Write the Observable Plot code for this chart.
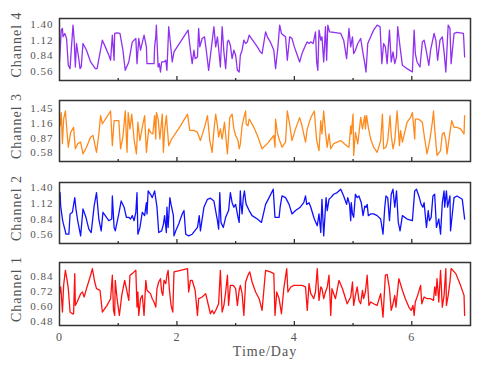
<!DOCTYPE html>
<html>
<head>
<meta charset="utf-8">
<script src="https://cdn.jsdelivr.net/npm/d3@7"></script>
<script src="https://cdn.jsdelivr.net/npm/@observablehq/plot@0.6"></script>
<style>
  html, body { margin: 0; padding: 0; background: #fff; }
  #chart { position: relative; width: 480px; height: 367px; }
  #chart > svg { position: absolute; left: 0; }
</style>
</head>
<body>
<div id="chart"></div>
<script>
// ---- data: [day, value] pairs ----
const ch4 = [[0.00,0.73],[0.03,1.30],[0.05,1.33],[0.06,1.18],[0.09,1.24],[0.10,1.21],[0.12,1.15],[0.15,0.67],[0.18,0.61],[0.20,0.94],[0.23,1.39],[0.25,1.12],[0.27,0.64],[0.29,1.06],[0.32,0.85],[0.35,0.61],[0.37,0.64],[0.40,1.06],[0.46,0.94],[0.53,0.73],[0.61,0.61],[0.64,0.61],[0.73,1.12],[0.78,1.00],[0.84,0.85],[0.87,0.76],[0.90,1.21],[0.93,0.76],[0.94,1.24],[0.98,1.25],[1.03,1.24],[1.08,0.94],[1.12,0.58],[1.18,0.73],[1.24,1.09],[1.30,1.15],[1.32,0.70],[1.35,1.15],[1.38,0.94],[1.44,1.21],[1.48,1.00],[1.49,0.70],[1.61,0.70],[1.62,1.00],[1.64,1.18],[1.65,1.39],[1.66,1.12],[1.68,0.64],[1.70,0.70],[1.72,0.55],[1.74,0.73],[1.78,0.73],[1.81,0.76],[1.83,0.58],[1.86,1.36],[1.89,1.06],[1.92,0.73],[1.95,0.91],[2.06,1.09],[2.19,1.30],[2.23,0.94],[2.26,0.70],[2.29,0.94],[2.31,0.79],[2.35,0.82],[2.37,1.33],[2.39,1.00],[2.43,1.15],[2.47,1.18],[2.50,0.94],[2.54,0.58],[2.63,1.36],[2.66,1.00],[2.69,1.18],[2.71,0.97],[2.74,0.64],[2.77,1.36],[2.80,0.91],[2.83,0.61],[2.86,1.09],[2.88,1.12],[2.91,1.03],[2.94,0.79],[2.97,0.94],[3.00,0.85],[3.03,0.58],[3.06,0.55],[3.08,0.85],[3.11,0.94],[3.14,1.12],[3.17,1.06],[3.20,1.09],[3.23,1.21],[3.25,1.18],[3.31,1.09],[3.37,1.00],[3.42,0.91],[3.45,0.88],[3.51,1.27],[3.54,1.18],[3.59,1.09],[3.65,0.94],[3.68,0.61],[3.72,1.00],[3.75,1.39],[3.78,1.24],[3.81,1.21],[3.85,1.18],[3.88,0.76],[3.92,1.18],[3.96,1.15],[4.00,1.00],[4.05,0.85],[4.09,0.73],[4.13,0.88],[4.19,1.03],[4.22,1.09],[4.25,1.06],[4.28,1.09],[4.32,1.06],[4.36,1.27],[4.38,0.73],[4.40,0.58],[4.42,1.30],[4.45,1.12],[4.47,1.18],[4.50,0.73],[4.53,1.36],[4.55,0.76],[4.57,1.39],[4.60,1.27],[4.67,1.26],[4.79,1.24],[4.84,1.12],[4.89,0.79],[4.93,1.33],[4.96,1.00],[4.99,1.18],[5.01,0.88],[5.04,0.94],[5.08,1.06],[5.13,1.15],[5.17,0.88],[5.20,0.70],[5.22,0.55],[5.25,1.06],[5.30,1.18],[5.35,1.30],[5.41,1.39],[5.46,1.36],[5.49,0.70],[5.52,1.06],[5.55,1.00],[5.58,0.70],[5.62,1.30],[5.65,0.73],[5.68,0.91],[5.71,0.70],[5.74,0.82],[5.76,1.36],[5.80,1.00],[5.84,0.67],[5.92,0.61],[6.01,0.55],[6.04,1.30],[6.06,0.88],[6.09,0.73],[6.14,0.64],[6.18,1.09],[6.21,1.12],[6.24,0.97],[6.29,0.67],[6.32,0.94],[6.35,1.09],[6.38,1.24],[6.41,1.12],[6.44,0.76],[6.48,1.12],[6.52,1.18],[6.55,0.91],[6.58,0.55],[6.62,1.39],[6.65,1.33],[6.67,0.70],[6.72,1.24],[6.77,1.26],[6.88,1.24],[6.90,0.82]];

const ch3 = [[0.01,1.11],[0.03,1.37],[0.05,0.76],[0.07,1.24],[0.10,1.40],[0.12,1.11],[0.15,0.69],[0.19,0.98],[0.24,1.08],[0.27,0.66],[0.31,0.76],[0.36,0.79],[0.40,0.56],[0.46,0.69],[0.53,0.89],[0.57,0.92],[0.63,0.59],[0.67,0.95],[0.70,1.31],[0.73,1.15],[0.80,1.27],[0.87,1.40],[0.90,0.72],[0.93,1.21],[1.01,1.21],[1.04,0.66],[1.08,0.89],[1.12,1.40],[1.15,0.59],[1.17,1.37],[1.20,1.05],[1.23,1.34],[1.27,0.85],[1.31,0.56],[1.335,1.18],[1.37,0.82],[1.41,1.08],[1.45,1.31],[1.48,0.59],[1.52,1.05],[1.55,0.98],[1.59,0.95],[1.62,1.31],[1.64,0.85],[1.65,1.37],[1.68,1.24],[1.71,0.85],[1.75,1.34],[1.77,0.59],[1.79,1.02],[1.82,1.31],[1.86,0.72],[1.91,0.85],[2.06,1.11],[2.18,1.34],[2.22,1.02],[2.29,1.02],[2.35,0.98],[2.40,0.82],[2.47,1.08],[2.52,1.31],[2.56,0.82],[2.60,0.59],[2.63,1.02],[2.66,1.34],[2.69,1.11],[2.71,0.89],[2.74,1.05],[2.77,0.85],[2.81,1.18],[2.86,0.56],[2.90,1.27],[2.94,1.34],[2.97,1.05],[3.00,0.92],[3.04,0.82],[3.06,0.66],[3.08,0.75],[3.11,1.11],[3.14,1.27],[3.17,1.40],[3.18,1.14],[3.21,1.11],[3.23,1.24],[3.25,1.21],[3.31,1.08],[3.37,0.92],[3.45,0.66],[3.54,0.76],[3.65,0.92],[3.67,0.69],[3.68,1.24],[3.71,0.98],[3.74,0.85],[3.79,0.69],[3.85,0.79],[3.88,1.40],[3.92,1.14],[3.96,0.82],[4.02,1.05],[4.09,1.27],[4.13,1.11],[4.19,0.79],[4.22,1.05],[4.28,1.27],[4.34,1.40],[4.38,0.82],[4.42,0.625],[4.45,1.21],[4.47,0.95],[4.50,1.40],[4.53,0.98],[4.56,0.69],[4.59,0.95],[4.62,0.66],[4.67,0.76],[4.79,0.82],[4.89,0.72],[4.93,0.69],[4.96,1.11],[4.97,0.95],[5.00,1.34],[5.01,0.53],[5.04,0.98],[5.08,0.755],[5.13,1.275],[5.16,1.05],[5.20,1.31],[5.21,1.05],[5.23,1.31],[5.26,1.08],[5.30,0.85],[5.35,0.69],[5.41,0.59],[5.47,0.82],[5.50,1.34],[5.52,0.66],[5.56,0.69],[5.59,0.82],[5.63,1.31],[5.65,0.92],[5.68,0.66],[5.71,0.82],[5.75,1.40],[5.79,0.72],[5.81,1.015],[5.84,0.79],[5.92,1.18],[5.98,1.275],[6.01,1.37],[6.05,0.85],[6.06,1.24],[6.12,1.24],[6.18,1.18],[6.22,0.85],[6.26,0.56],[6.31,0.85],[6.35,1.18],[6.37,1.40],[6.39,1.05],[6.43,0.53],[6.49,0.625],[6.52,0.95],[6.55,0.98],[6.58,0.82],[6.60,0.56],[6.65,0.98],[6.68,1.21],[6.72,1.08],[6.77,1.08],[6.83,1.05],[6.89,0.95],[6.90,1.31]];

const ch2 = [[0.01,1.31],[0.02,1.07],[0.05,0.84],[0.06,0.78],[0.09,0.66],[0.11,0.57],[0.16,0.57],[0.18,0.93],[0.22,0.96],[0.26,1.22],[0.28,1.02],[0.31,0.81],[0.36,0.54],[0.40,1.02],[0.45,0.87],[0.50,0.66],[0.54,0.60],[0.59,1.07],[0.63,1.31],[0.67,0.84],[0.71,0.63],[0.74,0.96],[0.78,0.90],[0.84,0.81],[0.89,0.84],[0.90,1.25],[0.93,0.69],[0.95,0.63],[1.01,0.93],[1.05,1.16],[1.10,1.05],[1.14,0.87],[1.18,0.87],[1.21,0.84],[1.24,0.90],[1.27,0.81],[1.30,0.96],[1.32,1.31],[1.335,0.57],[1.37,0.69],[1.41,0.96],[1.45,0.90],[1.48,1.13],[1.49,0.93],[1.51,1.34],[1.55,1.28],[1.58,1.22],[1.62,1.34],[1.66,1.05],[1.69,0.60],[1.74,0.63],[1.77,0.75],[1.79,0.90],[1.82,0.60],[1.83,1.05],[1.85,0.69],[1.88,1.22],[1.90,1.10],[1.94,0.90],[1.95,0.54],[1.98,0.63],[2.03,0.75],[2.09,0.93],[2.12,0.99],[2.15,0.57],[2.20,0.54],[2.26,0.57],[2.35,0.69],[2.38,0.90],[2.40,0.63],[2.46,1.05],[2.52,1.19],[2.57,1.21],[2.63,1.16],[2.69,0.81],[2.71,0.66],[2.73,1.31],[2.75,0.78],[2.79,0.69],[2.83,0.87],[2.88,0.99],[2.91,1.31],[2.94,1.13],[2.97,1.05],[3.00,1.10],[3.04,0.87],[3.06,0.78],[3.08,1.34],[3.09,1.13],[3.11,0.93],[3.13,1.22],[3.15,1.34],[3.17,1.16],[3.18,1.10],[3.23,0.99],[3.28,0.90],[3.37,0.84],[3.44,0.78],[3.51,1.10],[3.57,1.22],[3.64,1.37],[3.67,0.87],[3.74,0.87],[3.76,1.07],[3.79,1.25],[3.85,1.22],[3.91,1.10],[3.96,0.93],[4.02,0.99],[4.10,1.05],[4.16,1.13],[4.19,1.25],[4.21,1.10],[4.25,1.13],[4.28,1.05],[4.34,0.84],[4.39,0.72],[4.42,0.93],[4.45,0.60],[4.47,1.19],[4.50,0.54],[4.54,1.22],[4.56,0.99],[4.59,1.19],[4.62,1.22],[4.67,1.28],[4.73,1.31],[4.79,1.37],[4.84,1.25],[4.89,1.10],[4.91,1.22],[4.94,1.10],[4.96,0.81],[4.97,1.13],[4.99,0.93],[5.01,0.87],[5.04,1.28],[5.07,1.22],[5.10,1.25],[5.14,1.13],[5.17,0.90],[5.20,1.07],[5.22,1.05],[5.24,1.10],[5.26,0.90],[5.30,0.93],[5.35,0.93],[5.41,0.90],[5.47,0.84],[5.51,0.57],[5.54,1.05],[5.56,1.25],[5.59,1.22],[5.62,0.81],[5.65,1.28],[5.68,1.37],[5.71,1.05],[5.74,1.34],[5.77,0.78],[5.80,0.63],[5.84,0.90],[5.92,0.84],[6.01,0.81],[6.05,1.34],[6.08,1.37],[6.12,1.25],[6.16,1.10],[6.19,1.05],[6.21,1.13],[6.25,0.69],[6.28,0.99],[6.30,0.81],[6.33,0.87],[6.36,1.25],[6.39,1.28],[6.42,0.69],[6.46,0.84],[6.49,0.57],[6.52,1.13],[6.55,1.34],[6.56,1.05],[6.59,1.34],[6.61,1.05],[6.65,1.25],[6.66,0.63],[6.69,0.93],[6.72,1.22],[6.77,1.25],[6.86,1.19],[6.90,0.84]];

const ch1 = [[0.00,0.705],[0.02,0.76],[0.03,0.705],[0.05,0.556],[0.07,0.772],[0.10,0.894],[0.13,0.813],[0.15,0.745],[0.18,0.556],[0.22,0.542],[0.24,0.542],[0.26,0.867],[0.27,0.61],[0.30,0.637],[0.36,0.705],[0.39,0.718],[0.42,0.678],[0.46,0.745],[0.53,0.854],[0.56,0.908],[0.60,0.799],[0.63,0.745],[0.69,0.732],[0.73,0.556],[0.81,0.61],[0.87,0.664],[0.90,0.854],[0.92,0.569],[0.94,0.529],[0.95,0.813],[0.98,0.664],[1.02,0.529],[1.06,0.691],[1.11,0.813],[1.14,0.745],[1.18,0.65],[1.20,0.854],[1.24,0.867],[1.27,0.881],[1.30,0.894],[1.32,0.596],[1.335,0.718],[1.35,0.529],[1.38,0.664],[1.41,0.691],[1.44,0.529],[1.47,0.813],[1.49,0.732],[1.52,0.718],[1.55,0.705],[1.58,0.664],[1.61,0.637],[1.64,0.596],[1.66,0.745],[1.69,0.799],[1.72,0.826],[1.74,0.718],[1.76,0.691],[1.78,0.813],[1.81,0.786],[1.83,0.854],[1.85,0.894],[1.87,0.745],[1.90,0.61],[1.93,0.556],[1.95,0.881],[2.06,0.894],[2.18,0.908],[2.20,0.718],[2.23,0.813],[2.26,0.813],[2.31,0.732],[2.35,0.529],[2.37,0.664],[2.43,0.678],[2.49,0.705],[2.53,0.623],[2.57,0.542],[2.60,0.569],[2.63,0.542],[2.66,0.569],[2.71,0.623],[2.74,0.894],[2.77,0.556],[2.80,0.61],[2.83,0.718],[2.86,0.854],[2.88,0.61],[2.91,0.772],[2.96,0.772],[3.00,0.745],[3.03,0.61],[3.06,0.732],[3.08,0.772],[3.11,0.705],[3.14,0.529],[3.17,0.799],[3.21,0.854],[3.24,0.881],[3.28,0.799],[3.34,0.718],[3.40,0.664],[3.45,0.569],[3.51,0.894],[3.59,0.881],[3.65,0.867],[3.67,0.529],[3.70,0.718],[3.74,0.664],[3.78,0.542],[3.82,0.745],[3.87,0.908],[3.89,0.718],[3.94,0.759],[3.99,0.772],[4.13,0.772],[4.19,0.759],[4.22,0.569],[4.25,0.786],[4.28,0.705],[4.30,0.691],[4.33,0.664],[4.36,0.718],[4.39,0.908],[4.42,0.65],[4.45,0.759],[4.47,0.745],[4.50,0.664],[4.53,0.718],[4.56,0.759],[4.59,0.854],[4.62,0.529],[4.64,0.745],[4.70,0.664],[4.76,0.813],[4.82,0.745],[4.90,0.623],[4.96,0.678],[4.99,0.799],[5.01,0.61],[5.04,0.691],[5.07,0.759],[5.10,0.65],[5.13,0.623],[5.16,0.732],[5.18,0.664],[5.21,0.718],[5.24,0.854],[5.27,0.61],[5.30,0.637],[5.35,0.623],[5.41,0.61],[5.47,0.705],[5.51,0.515],[5.55,0.854],[5.58,0.86],[5.62,0.745],[5.65,0.569],[5.68,0.623],[5.71,0.691],[5.73,0.596],[5.78,0.826],[5.84,0.732],[5.89,0.664],[5.95,0.596],[5.99,0.569],[6.02,0.61],[6.04,0.529],[6.06,0.637],[6.10,0.691],[6.15,0.772],[6.17,0.623],[6.21,0.678],[6.26,0.664],[6.32,0.664],[6.37,0.65],[6.39,0.759],[6.41,0.691],[6.43,0.826],[6.46,0.637],[6.49,0.894],[6.52,0.596],[6.55,0.691],[6.58,0.908],[6.59,0.61],[6.62,0.691],[6.65,0.799],[6.67,0.908],[6.75,0.867],[6.83,0.772],[6.89,0.691],[6.90,0.529]];

const yTicks4 = [0.56, 0.84, 1.12, 1.40];
const yTicks3 = [0.58, 0.87, 1.16, 1.45];
const yTicks2 = [0.56, 0.84, 1.12, 1.40];
const yTicks1 = [0.48, 0.60, 0.72, 0.84];
const xMajor = [2, 4, 6];
const xMinor = [1, 3, 5];
const xLabels = [0, 2, 4, 6];
const channelNames = ["Channel 4", "Channel 3", "Channel 2", "Channel 1"];
const xTitle = "Time/Day";

// ---- layout ----
const panels = [
  {data: ch4, ticks: yTicks4, domain: [0.398, 1.508], color: "#9030f0", name: channelNames[0], top: 0, mt: 18, mb: 4, h: 84},
  {data: ch3, ticks: yTicks3, domain: [0.41, 1.606], color: "#ff8a1c", name: channelNames[1], top: 84, mt: 16, mb: 4, h: 81},
  {data: ch2, ticks: yTicks2, domain: [0.405, 1.489], color: "#1010ff", name: channelNames[2], top: 165, mt: 17, mb: 4, h: 82},
  {data: ch1, ticks: yTicks1, domain: [0.447, 0.957], color: "#ff1010", name: channelNames[3], top: 247, mt: 15, mb: 42, h: 120, bottom: true}
];

const chart = document.getElementById("chart");
const fontFamily = "'Liberation Serif', 'DejaVu Serif', serif";

for (const p of panels) {
  const frameH = p.h - p.mt - p.mb;
  const marks = [
    Plot.line(p.data, {x: d => d[0], y: d => d[1], stroke: p.color, strokeWidth: 1.3}),
    Plot.tickX(xMajor, {x: d => d, insetTop: frameH - 4, stroke: "#333", strokeWidth: 1.3}),
    Plot.tickX(xMinor, {x: d => d, insetTop: frameH - 2, stroke: "#333", strokeWidth: 1.3}),
    Plot.axisY({ticks: p.ticks, tickSize: 0, tickPadding: 6, tickFormat: d3.format(".2f"), fontSize: 11, label: null}),
    Plot.frame({stroke: "#333", strokeWidth: 1.5}),
    Plot.text([p.name], {frameAnchor: "left", textAnchor: "middle", dx: -43, dy: -5, rotate: -90, fontSize: 14, fill: "#555", text: d => d})
  ];
  if (p.bottom) {
    marks.push(Plot.axisX({ticks: xLabels, tickSize: 0, tickPadding: 7, tickFormat: d3.format("d"), fontSize: 12, label: null}));
    marks.push(Plot.text([xTitle], {frameAnchor: "bottom", dy: 30, fontSize: 14, fill: "#555", text: d => d}));
  }
  const svg = Plot.plot({
    width: 480,
    height: p.h,
    marginLeft: 59,
    marginRight: 10,
    marginTop: p.mt,
    marginBottom: p.mb,
    style: {fontFamily, color: "#555", background: "transparent", letterSpacing: "1px", overflow: "visible"},
    x: {domain: [0, 7], axis: p.bottom ? undefined : null},
    y: {domain: p.domain},
    marks
  });
  svg.style.top = p.top + "px";
  chart.appendChild(svg);
}
</script>
</body>
</html>
